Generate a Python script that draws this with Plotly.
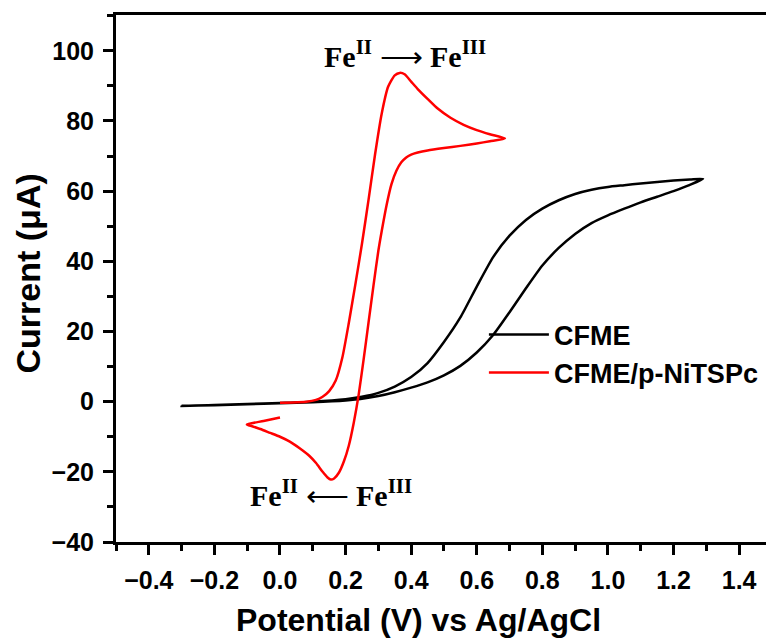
import plotly.graph_objects as go

# CFME (bare carbon fibre microelectrode): forward sweep then reverse sweep
cfme_v = [-0.30, -0.20, -0.10, 0.00, 0.10, 0.20, 0.25, 0.30, 0.35, 0.40, 0.45, 0.50, 0.55,
          0.60, 0.65, 0.70, 0.75, 0.80, 0.85, 0.90, 0.95, 1.00, 1.05, 1.10, 1.15, 1.20,
          1.25, 1.29,
          1.25, 1.20, 1.15, 1.10, 1.05, 1.00, 0.95, 0.90, 0.85, 0.80, 0.75, 0.70, 0.65,
          0.60, 0.55, 0.50, 0.45, 0.40, 0.35, 0.30, 0.25, 0.20, 0.10, 0.00, -0.10, -0.20,
          -0.30]
cfme_i = [-1.2, -1.0, -0.75, -0.45, -0.15, 0.35, 0.8, 1.6, 2.7, 4.0, 5.5, 7.5, 10.2,
          14.0, 19.0, 25.5, 32.3, 38.8, 43.8, 47.8, 50.9, 53.1, 55.0, 56.8, 58.4, 60.0,
          61.8, 63.5,
          63.3, 63.0, 62.6, 62.2, 61.7, 61.2, 60.4, 59.2, 57.4, 55.0, 51.8, 47.3, 41.2,
          32.8, 24.0, 17.0, 11.0, 7.0, 4.3, 2.5, 1.4, 0.7, 0.0, -0.35, -0.65, -0.95,
          -1.2]

# CFME/p-NiTSPc: anodic sweep 0 -> 0.69 V, cathodic sweep to -0.1 V, back to 0 V
ni_v = [0.00, 0.04, 0.08, 0.11, 0.13, 0.15, 0.17, 0.19, 0.21, 0.23, 0.25, 0.27, 0.29,
        0.31, 0.33, 0.35, 0.365, 0.38, 0.40, 0.42, 0.45, 0.48, 0.52, 0.56, 0.60, 0.64,
        0.686,
        0.64, 0.60, 0.55, 0.50, 0.45, 0.42, 0.40, 0.385, 0.37, 0.355, 0.34, 0.325, 0.31,
        0.30, 0.285, 0.27, 0.255, 0.24, 0.225, 0.21, 0.195, 0.18, 0.165, 0.155, 0.145,
        0.13, 0.11, 0.09, 0.06, 0.03, 0.00, -0.03, -0.06, -0.085, -0.101,
        -0.05, 0.00]
ni_i = [-0.3, -0.25, -0.05, 0.5, 1.4, 3.0, 6.0, 12.5, 22.5, 33.5, 45.0, 57.5, 70.5,
        82.0, 89.8, 93.0, 93.7, 93.3, 91.2, 89.1, 86.3, 83.6, 80.9, 78.9, 77.4, 76.2,
        75.0,
        74.2, 73.6, 72.9, 72.3, 71.6, 71.0, 70.4, 69.6, 68.2, 65.8, 62.0, 56.0, 48.5,
        43.0, 33.0, 22.5, 12.0, 2.0, -6.0, -12.5, -17.0, -20.2, -21.9, -22.2, -21.6,
        -20.0, -17.5, -15.5, -13.3, -11.4, -10.0, -8.9, -7.8, -7.0, -6.5,
        -5.5, -4.5]

series_names = ["CFME", "CFME/p-NiTSPc"]
series_colors = ["#000000", "#FF0000"]

x_title = "Potential (V) vs Ag/AgCl"
y_title = "Current (μA)"
label_ox = "<b>Fe<sup>II</sup></b> ⟶ <b>Fe<sup>III</sup></b>"
label_red = "<b>Fe<sup>II</sup></b> ⟵ <b>Fe<sup>III</sup></b>"

fig = go.Figure()
for v, i, name, col in [(cfme_v, cfme_i, series_names[0], series_colors[0]),
                        (ni_v, ni_i, series_names[1], series_colors[1])]:
    fig.add_trace(go.Scatter(x=v, y=i, mode="lines", name=name,
                             line=dict(color=col, width=2.5, shape="spline", smoothing=0.6)))

tickfont = dict(family="Liberation Sans", size=25, color="black", weight="bold")
fig.update_layout(
    width=766, height=641,
    margin=dict(l=116, r=0, t=15, b=99),
    paper_bgcolor="white", plot_bgcolor="white",
    showlegend=True,
    legend=dict(x=0.566, y=0.357, xanchor="left", yanchor="middle",
                font=dict(family="Liberation Sans", size=27, color="black", weight="bold"),
                bgcolor="rgba(0,0,0,0)", itemwidth=60, tracegroupgap=0),
    xaxis=dict(range=[-0.5, 1.482], dtick=0.2, tick0=0, tickformat=".1f",
               showgrid=False, zeroline=False,
               showline=True, linecolor="black", linewidth=3, mirror=True,
               ticks="outside", ticklen=10, tickwidth=2.5, tickcolor="black",
               minor=dict(ticks="outside", ticklen=6, tickwidth=2.5, tickcolor="black", dtick=0.1),
               tickfont=tickfont, ticklabelstandoff=4),
    yaxis=dict(range=[-40, 110.2], dtick=20, tick0=0,
               showgrid=False, zeroline=False,
               showline=True, linecolor="black", linewidth=3, mirror=False,
               ticks="outside", ticklen=10, tickwidth=2.5, tickcolor="black",
               minor=dict(ticks="outside", ticklen=6, tickwidth=2.5, tickcolor="black", dtick=10),
               tickfont=tickfont, ticklabelstandoff=4),
)

fig.add_annotation(text="<b>" + x_title + "</b>", xref="paper", yref="paper",
                   x=0.465, y=-0.148, xanchor="center", yanchor="middle", showarrow=False,
                   font=dict(family="Liberation Sans", size=32, color="black"))
fig.add_annotation(text="<b>" + y_title + "</b>", xref="paper", yref="paper",
                   x=-0.135, y=0.51, xanchor="center", yanchor="middle", textangle=-90,
                   showarrow=False, font=dict(family="Liberation Sans", size=34, color="black"))
fig.add_annotation(text=label_ox, xref="x", yref="y",
                   x=0.38, y=99, xanchor="center", yanchor="middle", showarrow=False,
                   font=dict(family="Liberation Serif", size=30, color="black"))
fig.add_annotation(text=label_red, xref="x", yref="y",
                   x=0.155, y=-26, xanchor="center", yanchor="middle", showarrow=False,
                   font=dict(family="Liberation Serif", size=30, color="black"))

fig.write_html("out.html")
